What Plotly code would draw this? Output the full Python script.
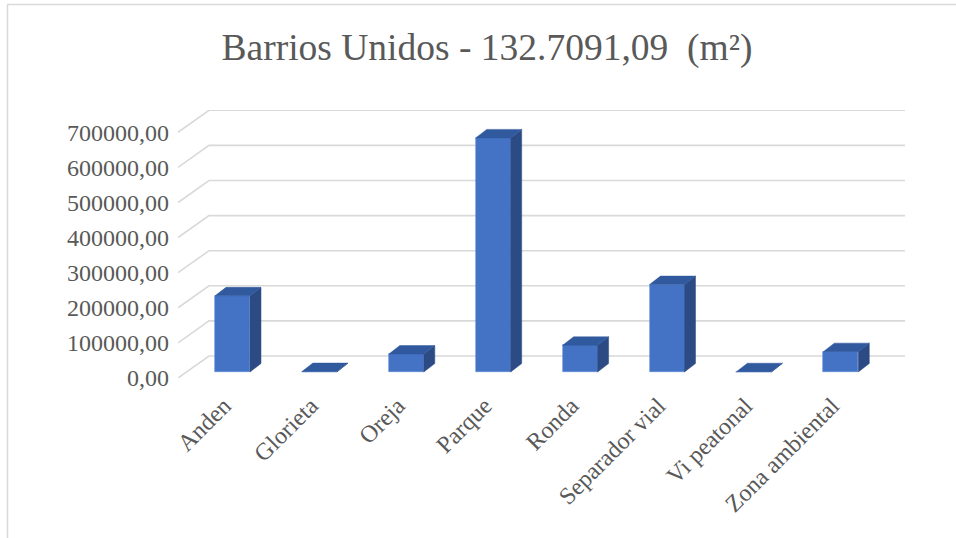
import plotly.graph_objects as go

# ---- data ----
categories = ["Anden", "Glorieta", "Oreja", "Parque", "Ronda",
              "Separador vial", "Vi peatonal", "Zona ambiental"]
values = [217000, 1200, 51000, 667000, 76000, 249000, 800, 58000]
tick_values = [0, 100000, 200000, 300000, 400000, 500000, 600000, 700000]
tick_labels = ["0,00", "100000,00", "200000,00", "300000,00", "400000,00",
               "500000,00", "600000,00", "700000,00"]
title_text = "Barrios Unidos - 132.7091,09\u00a0\u00a0(m²)"

# ---- geometry (pixel-derived constants for the pseudo-3D projection) ----
W, H = 956, 538
ML, MR, MT, MB = 178, 51, 110, 160
PW, PH = W - ML - MR, H - MT - MB
px_per_x = 86.9           # pixels per category step
px_per_y = 35.1 / 100000  # pixels per value unit
x_lo = -(232.5 - ML) / px_per_x
x_hi = x_lo + PW / px_per_x
y_lo = -(378 - 372) / px_per_y
y_hi = y_lo + PH / px_per_y

bar_w = 35 / px_per_x
depth_dx = 11 / px_per_x
depth_dy = 8.5 / px_per_y
front_dx = -8.45 / px_per_x          # front plane offset (category axis)
front_dy = y_lo                      # front plane offset (value axis)
back_dx = 31 / px_per_x              # wall depth
back_dy = front_dy + 22 / px_per_y

FRONT = "#4472C4"
SIDE = "#2C4B84"
TOP = "#31599E"
GRID = "#D9D9D9"
TXT = "#595959"
FONT = "Liberation Serif"

fig = go.Figure()

# front faces
fig.add_trace(go.Bar(
    x=list(range(len(categories))), y=values, width=bar_w,
    marker=dict(color=FRONT, line=dict(color="#5A8AD6", width=0.6)),
    hoverinfo="skip", showlegend=False))

# side and top faces
sx, sy, tx, ty = [], [], [], []
for i, v in enumerate(values):
    r = i + bar_w / 2
    l = i - bar_w / 2
    sx += [r, r + depth_dx, r + depth_dx, r, r, None]
    sy += [0, depth_dy, v + depth_dy, v, 0, None]
    tx += [l, l + depth_dx, r + depth_dx, r, l, None]
    ty += [v, v + depth_dy, v + depth_dy, v, v, None]
fig.add_trace(go.Scatter(x=sx, y=sy, mode="lines", fill="toself",
                         fillcolor=SIDE, line=dict(color=SIDE, width=0.5),
                         hoverinfo="skip", showlegend=False))
fig.add_trace(go.Scatter(x=tx, y=ty, mode="lines", fill="toself",
                         fillcolor=TOP, line=dict(color=TOP, width=0.5),
                         hoverinfo="skip", showlegend=False))

# gridlines on the back wall with diagonal connectors to the front plane
shapes = []
for v in tick_values:
    path = (f"M {x_lo},{v + front_dy} L {x_lo + back_dx},{v + back_dy} "
            f"L {x_hi},{v + back_dy}")
    shapes.append(dict(type="path", path=path, xref="x", yref="y",
                       line=dict(color=GRID, width=1.6), layer="below"))

# chart border (left and top edges visible; right/bottom run off the page)
shapes.append(dict(type="rect", xref="paper", yref="paper",
                   x0=(7.5 - ML) / PW, x1=(W + 10 - ML) / PW,
                   y0=-(MB + 10) / PH, y1=(PH + MT - 4.5) / PH,
                   line=dict(color=GRID, width=1.5), layer="below"))

fig.update_layout(
    width=W, height=H,
    margin=dict(l=ML, r=MR, t=MT, b=MB),
    paper_bgcolor="white", plot_bgcolor="rgba(0,0,0,0)",
    shapes=shapes,
    title=dict(text=title_text, xref="container", yref="container",
               x=487 / W, y=1 - 47 / H, xanchor="center", yanchor="middle",
               font=dict(family=FONT, size=37.5, color=TXT)),
    xaxis=dict(range=[x_lo, x_hi], tickmode="array",
               tickvals=[i + front_dx for i in range(len(categories))],
               ticktext=categories, ticklabelstandoff=8,
               tickangle=-45, showgrid=False, zeroline=False, showline=False,
               ticks="", tickfont=dict(family=FONT, size=24, color=TXT)),
    yaxis=dict(range=[y_lo, y_hi], tickmode="array",
               tickvals=[v + front_dy for v in tick_values],
               ticktext=tick_labels, showgrid=False, zeroline=False,
               showline=False, ticks="", ticklabelstandoff=8,
               tickfont=dict(family=FONT, size=24, color=TXT)),
    bargap=0,
)

fig.write_html("out.html",
               config={"displayModeBar": False},
               post_script="document.body.style.margin='0px';"
                           "document.body.style.overflow='hidden';")
